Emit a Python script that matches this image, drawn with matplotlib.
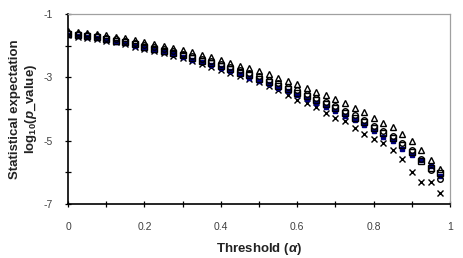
import matplotlib
matplotlib.use("Agg")
import matplotlib.pyplot as plt
from matplotlib.ticker import MultipleLocator, FuncFormatter

plt.rcParams['font.family'] = ['Liberation Sans', 'DejaVu Sans']
plt.rcParams['mathtext.fontset'] = 'custom'
plt.rcParams['mathtext.it'] = 'Liberation Sans:italic:bold'
plt.rcParams['mathtext.rm'] = 'Liberation Sans:bold'
plt.rcParams['mathtext.bf'] = 'Liberation Sans:bold'

threshold = [0.000, 0.025, 0.050, 0.075, 0.100, 0.125, 0.150, 0.175, 0.200, 0.225,
             0.250, 0.275, 0.300, 0.325, 0.350, 0.375, 0.400, 0.425, 0.450, 0.475,
             0.500, 0.525, 0.550, 0.575, 0.600, 0.625, 0.650, 0.675, 0.700, 0.725,
             0.750, 0.775, 0.800, 0.825, 0.850, 0.875, 0.900, 0.925, 0.950, 0.975]

series_triangle = [-1.55, -1.58, -1.61, -1.64, -1.68, -1.72, -1.77, -1.83, -1.89, -1.95,
                   -2.01, -2.07, -2.14, -2.21, -2.29, -2.37, -2.45, -2.54, -2.63, -2.72,
                   -2.81, -2.91, -3.01, -3.11, -3.22, -3.33, -3.45, -3.57, -3.69, -3.82,
                   -3.96, -4.11, -4.27, -4.44, -4.58, -4.80, -5.00, -5.30, -5.62, -5.90]

series_circle = [-1.60, -1.63, -1.67, -1.71, -1.75, -1.80, -1.85, -1.91, -1.98, -2.04,
                 -2.11, -2.18, -2.25, -2.33, -2.41, -2.50, -2.58, -2.68, -2.78, -2.87,
                 -2.97, -3.08, -3.19, -3.29, -3.41, -3.53, -3.66, -3.79, -3.91, -4.05,
                 -4.20, -4.36, -4.53, -4.70, -4.85, -5.08, -5.28, -5.58, -5.91, -6.20]

series_square = [-1.63, -1.67, -1.70, -1.74, -1.79, -1.84, -1.89, -1.96, -2.03, -2.10,
                 -2.17, -2.23, -2.31, -2.39, -2.48, -2.56, -2.65, -2.75, -2.85, -2.94,
                 -3.04, -3.15, -3.26, -3.36, -3.48, -3.60, -3.72, -3.85, -3.98, -4.12,
                 -4.27, -4.42, -4.59, -4.77, -4.92, -5.14, -5.35, -5.65, -5.85, -6.02]

series_filled = [-1.65, -1.69, -1.73, -1.77, -1.82, -1.87, -1.93, -2.00, -2.07, -2.14,
                 -2.21, -2.28, -2.36, -2.44, -2.53, -2.62, -2.71, -2.81, -2.91, -3.01,
                 -3.11, -3.22, -3.33, -3.44, -3.56, -3.68, -3.81, -3.94, -4.07, -4.21,
                 -4.36, -4.52, -4.69, -4.87, -5.02, -5.25, -5.45, -5.60, -5.80, -6.10]

series_cross = [-1.68, -1.72, -1.76, -1.80, -1.85, -1.90, -1.96, -2.03, -2.10, -2.17,
                -2.24, -2.32, -2.40, -2.48, -2.57, -2.66, -2.76, -2.86, -2.96, -3.06,
                -3.16, -3.28, -3.40, -3.55, -3.72, -3.82, -3.95, -4.12, -4.27, -4.37,
                -4.60, -4.78, -4.94, -5.06, -5.30, -5.57, -6.00, -6.30, -6.30, -6.65]

x_tick_labels = ['0', '0.2', '0.4', '0.6', '0.8', '1']
y_tick_labels = ['-1', '-3', '-5', '-7']

fig = plt.figure(figsize=(4.63, 2.58), dpi=100)
ax = fig.add_axes([0.147, 0.209, 0.825, 0.737])

ms = 4.0
ax.plot(threshold, series_cross, linestyle='none', marker='x', color='black',
        markersize=ms, markeredgewidth=1.0)
ax.plot(threshold, series_filled, linestyle='none', marker='s', color='#000080',
        markeredgecolor='#000080', markersize=3.0)
ax.plot(threshold, series_square, linestyle='none', marker='s', markerfacecolor='none',
        markeredgecolor='black', markersize=ms, markeredgewidth=1.0)
ax.plot(threshold, series_circle, linestyle='none', marker='o', markerfacecolor='none',
        markeredgecolor='black', markersize=ms, markeredgewidth=1.0)
ax.plot(threshold, series_triangle, linestyle='none', marker='^', markerfacecolor='none',
        markeredgecolor='black', markersize=ms + 0.3, markeredgewidth=1.0)

ax.set_xlim(0, 1)
ax.set_ylim(-7, -1)
ax.xaxis.set_major_locator(MultipleLocator(0.1))
ax.yaxis.set_major_locator(MultipleLocator(1))

xpos = [0, 0.2, 0.4, 0.6, 0.8, 1.0]
ypos = [-1, -3, -5, -7]

def xfmt(v, p):
    for pos, lab in zip(xpos, x_tick_labels):
        if abs(v - pos) < 1e-6:
            return lab
    return ''

def yfmt(v, p):
    for pos, lab in zip(ypos, y_tick_labels):
        if abs(v - pos) < 1e-6:
            return lab
    return ''

ax.xaxis.set_major_formatter(FuncFormatter(xfmt))
ax.yaxis.set_major_formatter(FuncFormatter(yfmt))

ax.tick_params(axis='both', direction='inout', length=4, width=0.9,
               labelsize=7.5, labelcolor='#404040', color='black')
ax.tick_params(axis='y', pad=9)
ax.tick_params(axis='x', pad=11)

for s in ['left', 'bottom']:
    ax.spines[s].set_color('black')
    ax.spines[s].set_linewidth(1.2)
for s in ['top', 'right']:
    ax.spines[s].set_color('#a0a0a0')
    ax.spines[s].set_linewidth(0.9)

ax.set_ylabel('Statistical expectation\nlog$_{10}$($p$_value)', fontsize=9.5,
              fontweight='bold', color='#222222', linespacing=1.2, labelpad=3)
ax.set_xlabel(r'Threshold ($\alpha$)', fontsize=9.5, fontweight='bold',
              color='#222222', labelpad=6.5)

fig.savefig('out.png', dpi=100)
